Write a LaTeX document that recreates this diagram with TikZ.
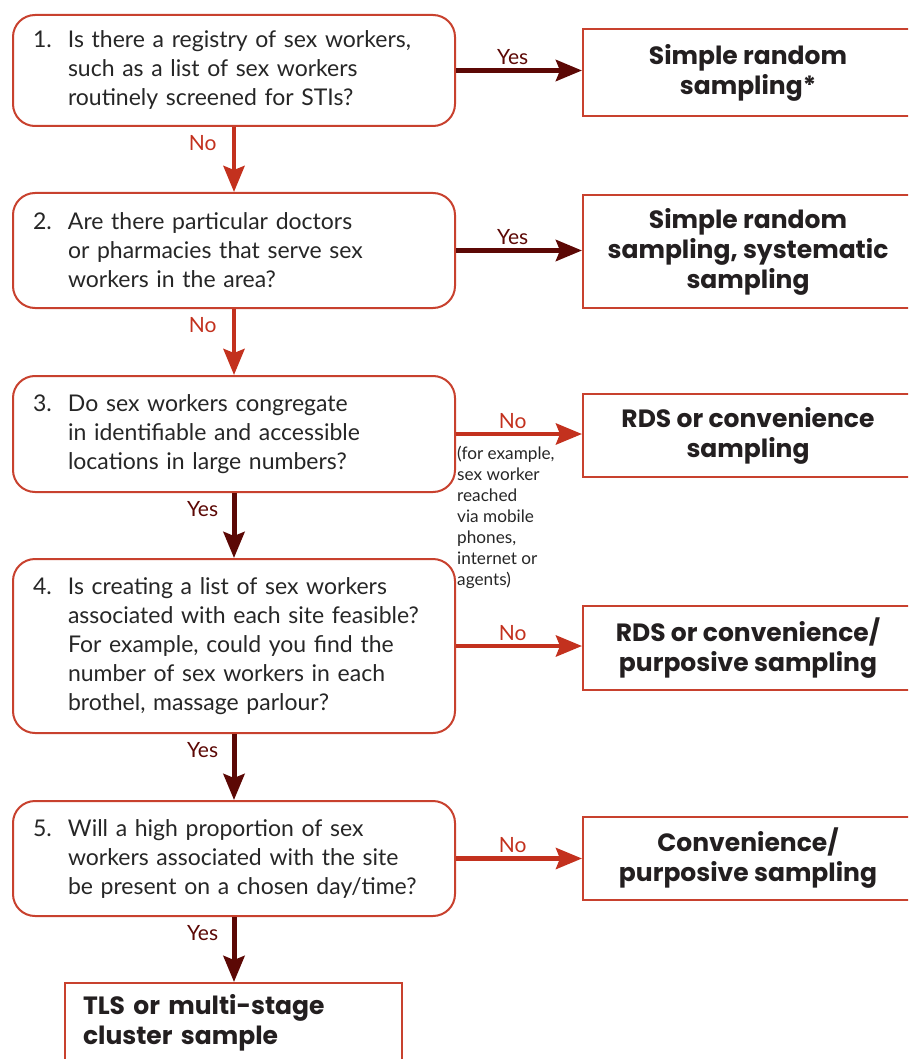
\documentclass[tikz,border=0pt]{standalone}
\usepackage{fontspec}
\setmainfont{Lato}
\newfontfamily\resfont{Poppins}
\usetikzlibrary{arrows.meta}
\definecolor{boxred}{HTML}{C8412E}
\definecolor{nored}{HTML}{C3311E}
\definecolor{yesdark}{HTML}{5C0805}
\definecolor{txt}{HTML}{262626}
\definecolor{restxt}{HTML}{231F20}
\begin{document}
\begin{tikzpicture}[x=1pt,y=-1pt,
  qbox/.style={draw=boxred, line width=2pt, rounded corners=22pt, fill=white,
    anchor=north west, minimum width=442pt, inner xsep=20pt, inner ysep=0pt,
    text width=402pt, align=left, font=\fontsize{23}{29}\selectfont, text=txt},
  rbox/.style={draw=boxred, line width=2pt, fill=white, anchor=north west,
    minimum width=330pt, inner sep=0pt, align=center,
    font=\resfont\bfseries\fontsize{25}{30}\selectfont, text=restxt},
  yesarrow/.style={draw=yesdark, line width=5pt, -{Stealth[length=26pt,width=21pt,inset=4pt]}},
  noarrow/.style={draw=nored, line width=4.5pt, -{Stealth[length=26pt,width=21pt,inset=4pt]}},
  yeslab/.style={text=yesdark, font=\fontsize{21}{24}\selectfont},
  nolab/.style={text=nored, font=\fontsize{21}{24}\selectfont},
  note/.style={anchor=north west, align=left, inner sep=0pt, text=txt,
    font=\fontsize{17.2}{21}\selectfont}
]
\useasboundingbox (0,0) rectangle (908,1059);
\clip (0,0) rectangle (908,1059);

\newcommand\nb[1]{\makebox[35pt][l]{#1}}
\newcommand\ind{\hspace*{35pt}}

\node[qbox, minimum height=111pt] (q1) at (12,14)
  {\nb{1.}Is there a registry of sex workers,\\\ind such as a list of sex workers\\\ind routinely screened for STIs?};
\node[qbox, minimum height=115pt] (q2) at (12,192)
  {\nb{2.}Are there particular doctors\\\ind or pharmacies that serve sex\\\ind workers in the area?};
\node[qbox, minimum height=116pt] (q3) at (12,375)
  {\nb{3.}Do sex workers congregate\\\ind in identifiable and accessible\\\ind locations in large numbers?};
\node[qbox, minimum height=174pt] (q4) at (12,558)
  {\nb{4.}Is creating a list of sex workers\\\ind associated with each site feasible?\\\ind For example, could you find the\\\ind number of sex workers in each\\\ind brothel, massage parlour?};
\node[qbox, minimum height=115pt] (q5) at (12,800)
  {\nb{5.}Will a high proportion of sex\\\ind workers associated with the site\\\ind be present on a chosen day/time?};

\node[rbox, minimum height=87pt] (r1) at (582,28) {Simple random\\sampling*};
\node[rbox, minimum height=113pt] (r2) at (582,194) {Simple random\\sampling, systematic\\sampling};
\node[rbox, minimum height=83pt] (r3) at (582,393) {RDS or convenience\\sampling};
\node[rbox, minimum height=84pt] (r4) at (582,605) {RDS or convenience/\\purposive sampling};
\node[rbox, minimum height=83pt] (r5) at (582,816) {Convenience/\\purposive sampling};
\node[rbox, minimum height=80pt, minimum width=337pt, text width=301pt, inner xsep=18pt, align=left] (r6) at (64,982)
  {TLS or multi-stage\\cluster sample};

\node[note] (n3) at (457,446) {(for example,\\sex worker\\reached\\via mobile\\phones,\\internet or\\agents)};

% horizontal
\draw[yesarrow] (q1.east) -- (q1.east -| r1.west) node[yeslab, pos=0.45, above=0pt] (l1) {Yes};
\draw[yesarrow] (q2.east) -- (q2.east -| r2.west) node[yeslab, pos=0.45, above=0pt] (l2) {Yes};
\draw[noarrow] (q3.east) -- (q3.east -| r3.west) node[nolab, pos=0.45, above=0pt] (l3) {No};
\draw[noarrow] (q4.east) -- (q4.east -| r4.west) node[nolab, pos=0.45, above=0pt] (l4) {No};
\draw[noarrow] (q5.east) -- (q5.east -| r5.west) node[nolab, pos=0.45, above=0pt] (l5) {No};
% vertical
\draw[noarrow] (q1.south) -- (q2.north) node[nolab, pos=0.24, left=12pt] (v1) {No};
\draw[noarrow] (q2.south) -- (q3.north) node[nolab, pos=0.24, left=12pt] (v2) {No};
\draw[yesarrow] (q3.south) -- (q4.north) node[yeslab, pos=0.24, left=10pt] (v3) {Yes};
\draw[yesarrow] (q4.south) -- (q5.north) node[yeslab, pos=0.24, left=10pt] (v4) {Yes};
\draw[yesarrow] (q5.south) -- (r6.north -| q5.south) node[yeslab, pos=0.24, left=10pt] (v5) {Yes};
\end{tikzpicture}
\end{document}
